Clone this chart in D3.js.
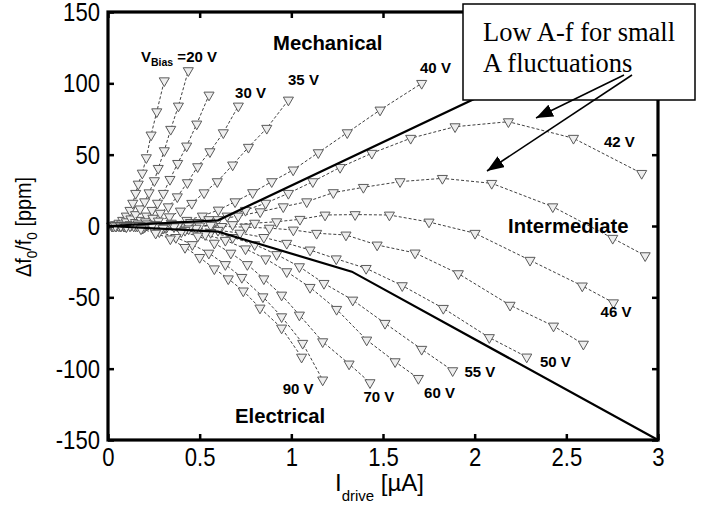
<!DOCTYPE html>
<html><head><meta charset="utf-8">
<script src="https://cdn.jsdelivr.net/npm/d3@7"></script>
<style>
body{margin:0;background:#fff;}
svg{display:block;}
</style></head>
<body>
<svg id="chart" width="713" height="505"></svg>
<script>
// ---- data ----
const xTicks = [0, 0.5, 1, 1.5, 2, 2.5, 3];
const yTicks = [-150, -100, -50, 0, 50, 100, 150];

const s15x = [0.02,0.04,0.06,0.08,0.10,0.12,0.135,0.151,0.165,0.187,0.209,0.235,0.266,0.307];
const s15y = [0,1,2,4,7,11,16,22.9,29.4,37.1,47.9,63.8,80.1,101.8];
const s20x = [0.025,0.05,0.075,0.10,0.125,0.15,0.175,0.20,0.224,0.253,0.274,0.307,0.342,0.384,0.438];
const s20y = [0,0.5,1.5,3,5,8,12,17,23.3,31.8,40.4,52.8,67.8,84.1,108.9];
const s25x = [0.03,0.06,0.09,0.12,0.15,0.18,0.21,0.24,0.27,0.302,0.338,0.380,0.429,0.484,0.551];
const s25y = [0,0,0.5,1,2.5,4,7,11,16,22.9,32.7,43.9,56.1,71.5,91.8];
const s30x = [0.045,0.085,0.125,0.165,0.205,0.245,0.285,0.329,0.378,0.433,0.489,0.556,0.629,0.711];
const s30y = [0,0,0.5,1.5,3,5.5,9,13.5,20.5,30.4,41.6,52.1,65.4,84.1];
const s35x = [0.04,0.095,0.155,0.215,0.275,0.335,0.395,0.457,0.524,0.596,0.680,0.766,0.866,0.984];
const s35y = [0,0,0.5,1.5,3.5,6.5,10.5,15.9,23.3,31.1,42.8,55.2,68.5,88.3];
const s40x = [0.09,0.175,0.26,0.345,0.43,0.515,0.602,0.693,0.789,0.893,1.01,1.147,1.305,1.484,1.711];
const s40y = [0,0.3,1,2,4,7,11.2,17.0,23.4,31.1,39.3,51.4,65.4,81.3,100];
const s42x = [0.07,0.15,0.25,0.35,0.45,0.55,0.65,0.75,0.86,0.984,1.117,1.266,1.439,1.651,1.893,2.184,2.539,2.911];
const s42y = [0,0,0.3,1,2.5,4.5,7,11,16,22.9,31.1,41.1,51.0,61.5,69.6,73.1,61.5,36.9];
const s44x = [0.07,0.16,0.27,0.38,0.49,0.6,0.71,0.83,0.956,1.084,1.229,1.393,1.593,1.824,2.093,2.426,2.753,2.930];
const s44y = [0,0,0.3,1,2.5,4.5,7,10,13.5,17.0,23.4,27.1,31.1,33.4,29.9,13.5,-8.6,-20.8];
const s46x = [0.09,0.2,0.32,0.44,0.56,0.68,0.8,0.92,1.047,1.184,1.348,1.535,1.751,2.002,2.302,2.587,2.757];
const s46y = [0,0,0,0,0.5,1,2,3,4.7,7.7,8.0,7.7,2.8,-5.1,-24,-42,-53.8];
const s48x = [0.14,0.26,0.38,0.5,0.62,0.75,0.88,1.011,1.138,1.298,1.468,1.675,1.911,2.193,2.430,2.593];
const s48y = [0,0,0,0,-0.3,-0.8,-1.5,-2.8,-5.1,-6.3,-13.3,-18.9,-33.4,-55.5,-70.1,-82.8];
const s50x = [0.12,0.24,0.36,0.48,0.6,0.72,0.85,0.975,1.102,1.245,1.408,1.605,1.829,2.080,2.284];
const s50y = [0,0,-0.5,-1.5,-3,-5,-8,-12.1,-16.8,-23,-29.7,-41.8,-57.7,-78.2,-91.8];
const s55x = [0.1,0.2,0.32,0.44,0.56,0.68,0.8,0.92,1.044,1.178,1.335,1.511,1.711,1.880];
const s55y = [0,0,-0.8,-2,-4.5,-8,-13,-20,-28.5,-40.2,-51.9,-68.2,-86.4,-101.4];
const s60x = [0.1,0.2,0.31,0.42,0.53,0.64,0.75,0.86,0.975,1.102,1.247,1.411,1.566,1.693];
const s60y = [0,-0.3,-1,-3,-6,-10,-16,-23,-32.0,-43.0,-58.4,-79.9,-95.1,-106.8];
const s70x = [0.1,0.2,0.3,0.4,0.49,0.58,0.67,0.76,0.85,0.947,1.044,1.171,1.315,1.429];
const s70y = [0,-0.5,-1.5,-4,-7,-12,-19,-27,-37,-48.4,-62.4,-81.1,-96.7,-109.8];
const s80x = [0.1,0.19,0.28,0.37,0.46,0.55,0.64,0.73,0.845,0.947,1.062,1.171];
const s80y = [-0.3,-1.5,-4,-8,-13,-19,-27,-36,-49.6,-63.6,-82.2,-107.9];
const s90x = [0.1,0.18,0.26,0.34,0.42,0.5,0.58,0.656,0.738,0.829,0.947,1.056];
const s90y = [-0.5,-2,-5,-9,-15,-22,-30,-37,-45.5,-57.5,-71.5,-91.9];

const seriesX = [s15x,s20x,s25x,s30x,s35x,s40x,s42x,s44x,s46x,s48x,s50x,s55x,s60x,s70x,s80x,s90x];
const seriesY = [s15y,s20y,s25y,s30y,s35y,s40y,s42y,s44y,s46y,s48y,s50y,s55y,s60y,s70y,s80y,s90y];

// boundary lines
const upperX = [0, 0.6, 3];
const upperY = [0, 4, 150];
const lowerX = [0, 0.6, 1.33, 3];
const lowerY = [0, -4, -32, -150];

// curve labels (left edge / baseline, data units)
const curveLabels = ["30 V","35 V","40 V","42 V","46 V","50 V","55 V","60 V","70 V","90 V"];
const curveLabelX = [0.693,0.982,1.702,2.705,2.687,2.356,1.944,1.724,1.393,0.953];
const curveLabelY = [89.7,98.8,107,55.6,-64,-98.6,-105.6,-120.8,-123.2,-117.8];
const regionLabels = ["Mechanical","Intermediate","Electrical"];
const regionX = [0.9, 2.182, 0.693];
const regionY = [123.4, -4.9, -138.1];

// ---- drawing ----
const svg = d3.select("#chart");
const x = d3.scaleLinear().domain([0,3]).range([108,658]);
const y = d3.scaleLinear().domain([-150,150]).range([440,12]);
const sans = "'Liberation Sans',Arial,sans-serif";
function narrow(sel, f){
  sel.each(function(){
    const L = this.getComputedTextLength();
    d3.select(this).attr("textLength", L*f).attr("lengthAdjust","spacingAndGlyphs");
  });
}

// series
const line = d3.line().x(d=>x(d[0])).y(d=>y(d[1]));
const tri = d3.symbol().type(d3.symbolTriangle).size(44);
const gS = svg.append("g");
seriesX.forEach((xs,i)=>{
  const pts = xs.map((v,j)=>[v, seriesY[i][j]]);
  gS.append("path").attr("d", line(pts)).attr("fill","none")
    .attr("stroke","#2a2a2a").attr("stroke-width",0.9).attr("stroke-dasharray","3,2");
});
seriesX.forEach((xs,i)=>{
  const pts = xs.map((v,j)=>[v, seriesY[i][j]]);
  gS.selectAll(null).data(pts).enter().append("path")
    .attr("d", tri)
    .attr("transform", d=>`translate(${x(d[0])},${y(d[1])}) rotate(180)`)
    .attr("fill","#eeeeee").attr("stroke","#5a5a5a").attr("stroke-width",1);
});

// boundaries
const bLine = d3.line().x(d=>x(d[0])).y(d=>y(d[1]));
svg.append("path").attr("d", bLine(upperX.map((v,i)=>[v,upperY[i]])))
  .attr("fill","none").attr("stroke","#000").attr("stroke-width",2.2);
svg.append("path").attr("d", bLine(lowerX.map((v,i)=>[v,lowerY[i]])))
  .attr("fill","none").attr("stroke","#000").attr("stroke-width",2.2);

// axes
const fmt = d => String(d);
const xAxis = svg.append("g").attr("transform","translate(0,440)")
  .call(d3.axisBottom(x).tickValues(xTicks).tickFormat(fmt).tickSizeInner(-6).tickSizeOuter(0));
const xTop = svg.append("g").attr("transform","translate(0,12)")
  .call(d3.axisTop(x).tickValues(xTicks).tickFormat("").tickSizeInner(-6).tickSizeOuter(0));
const yAxis = svg.append("g").attr("transform","translate(108,0)")
  .call(d3.axisLeft(y).tickValues(yTicks).tickFormat(fmt).tickSizeInner(-6).tickSizeOuter(0));
const yRight = svg.append("g").attr("transform","translate(658,0)")
  .call(d3.axisRight(y).tickValues(yTicks).tickFormat("").tickSizeInner(-6).tickSizeOuter(0));
[xAxis,xTop,yAxis,yRight].forEach(g=>{
  g.select(".domain").remove();
  g.selectAll(".tick line").attr("stroke","#000").attr("stroke-width",2.5);
  g.selectAll("text").attr("font-family",sans).attr("font-size",26).attr("fill","#000");
});
xAxis.selectAll("text").attr("y",26).attr("dy",0);
yAxis.selectAll("text").attr("x",-8).attr("dy","0.33em");
narrow(xAxis.selectAll("text"),0.85);
narrow(yAxis.selectAll("text"),0.85);

svg.append("rect").attr("x",108).attr("y",12).attr("width",550).attr("height",428)
  .attr("fill","none").attr("stroke","#000").attr("stroke-width",3.2);

// axis titles
const yt = svg.append("text").attr("transform","translate(31,227) rotate(-90)")
  .attr("text-anchor","middle").attr("font-family",sans).attr("font-size",22);
yt.append("tspan").text("\u0394f");
yt.append("tspan").attr("font-size",15).attr("dy",6).text("0");
yt.append("tspan").attr("dy",-6).text("/f");
yt.append("tspan").attr("font-size",15).attr("dy",6).text("0");
yt.append("tspan").attr("dy",-6).text(" [ppm]");
narrow(yt, 0.9);

const xt = svg.append("text").attr("x",335).attr("y",491)
  .attr("text-anchor","start").attr("font-family",sans).attr("font-size",24);
xt.append("tspan").text("I");
xt.append("tspan").attr("font-size",15).attr("dy",10).text("drive");
xt.append("tspan").attr("dy",-10).text(" [\u00b5A]");

// curve labels
svg.selectAll(null).data(curveLabels).enter().append("text")
  .attr("x",(d,i)=>x(curveLabelX[i])).attr("y",(d,i)=>y(curveLabelY[i]))
  .attr("font-family",sans).attr("font-weight","bold").attr("font-size",15)
  .attr("text-anchor","start").text(d=>d);
const vb = svg.append("text").attr("x",141).attr("y",62)
  .attr("font-family",sans).attr("font-weight","bold").attr("font-size",15);
vb.append("tspan").text("V");
vb.append("tspan").attr("font-size",10.5).attr("dy",4).text("Bias");
vb.append("tspan").attr("dy",-4).text(" =20 V");

svg.selectAll(null).data(regionLabels).enter().append("text")
  .attr("x",(d,i)=>x(regionX[i])).attr("y",(d,i)=>y(regionY[i]))
  .attr("font-family",sans).attr("font-weight","bold").attr("font-size",20.3)
  .attr("text-anchor","start").text(d=>d);

// annotation box
svg.append("rect").attr("x",463).attr("y",4).attr("width",232).attr("height",96)
  .attr("fill","#fff").attr("stroke","#000").attr("stroke-width",1.5);
const ann = svg.append("text").attr("font-family","'Liberation Serif','Times New Roman',serif")
  .attr("font-size",26.5).attr("fill","#000");
ann.append("tspan").attr("x",483).attr("y",41).text("Low A-f for small");
ann.append("tspan").attr("x",483).attr("y",72).text("A fluctuations");

const defs = svg.append("defs");
defs.append("marker").attr("id","ah").attr("viewBox","0 0 10 10").attr("refX",10).attr("refY",5)
  .attr("markerWidth",17).attr("markerHeight",13).attr("markerUnits","userSpaceOnUse").attr("orient","auto")
  .attr("preserveAspectRatio","none")
  .append("path").attr("d","M0,0 L10,5 L0,10 z").attr("fill","#000");
svg.append("line").attr("x1",624).attr("y1",75).attr("x2",536).attr("y2",118)
  .attr("stroke","#000").attr("stroke-width",1.5).attr("marker-end","url(#ah)");
svg.append("line").attr("x1",632).attr("y1",75).attr("x2",487).attr("y2",171)
  .attr("stroke","#000").attr("stroke-width",1.5).attr("marker-end","url(#ah)");
</script>
</body></html>
